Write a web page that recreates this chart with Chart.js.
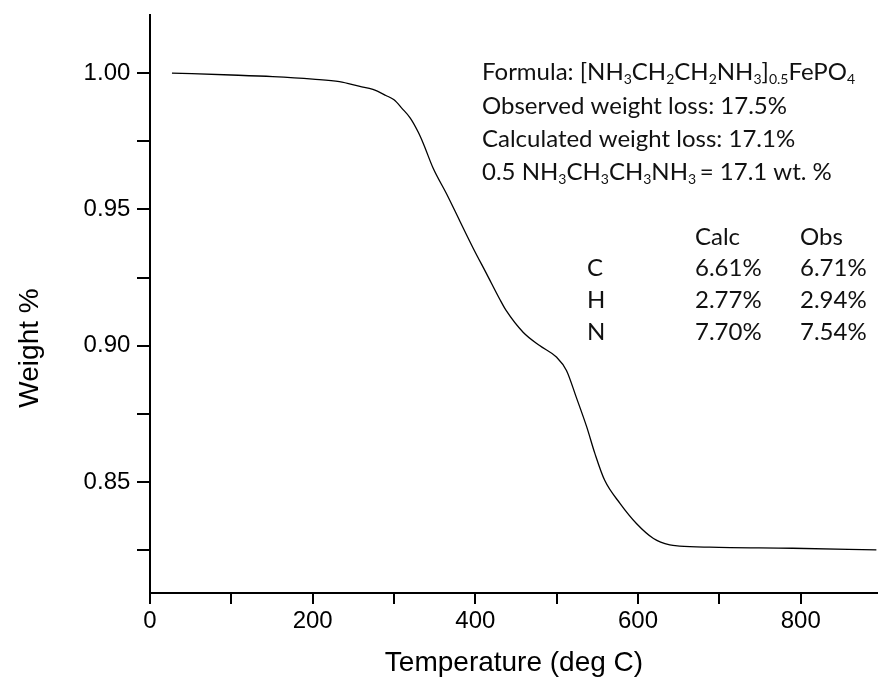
<!DOCTYPE html>
<html>
<head>
<meta charset="utf-8">
<script src="https://cdn.jsdelivr.net/npm/chart.js@4/dist/chart.umd.min.js"></script>
<style>
html,body{margin:0;padding:0;background:#fff;overflow:hidden;}
#wrap{width:878px;height:686px;}
</style>
</head>
<body>
<div id="wrap"><canvas id="c" width="878" height="686"></canvas></div>
<script>
// ---- data ----
const temperatureC = [27, 100, 151, 200, 233, 258, 274, 290, 300, 310, 320, 330, 336, 348, 365, 381, 397, 414, 430, 438, 459, 479, 500, 512, 524, 537, 547, 559, 578, 598, 619, 639, 651, 688, 790, 893];
const weightFrac   = [1.0000, 0.9993, 0.9987, 0.9978, 0.9969, 0.9951, 0.9940, 0.9918, 0.9902, 0.9870, 0.9835, 0.9782, 0.9742, 0.9652, 0.9555, 0.9457, 0.9360, 0.9263, 0.9171, 0.9129, 0.9049, 0.9001, 0.8958, 0.8910, 0.8812, 0.8702, 0.8605, 0.8507, 0.8422, 0.8349, 0.8294, 0.8270, 0.8266, 0.8262, 0.8258, 0.8252];
const xTickValues = [0, 100, 200, 300, 400, 500, 600, 700, 800];
const xTickLabels = [0, 200, 400, 600, 800];
const yTickValues = [0.825, 0.85, 0.875, 0.90, 0.925, 0.95, 0.975, 1.00];
const yTickLabels = ['0.85', '0.90', '0.95', '1.00'];
const xTitle = 'Temperature (deg C)';
const yTitle = 'Weight %';
const formulaLines = [
  [['Formula: [NH'],['3',1],['CH'],['2',1],['CH'],['2',1],['NH'],['3',1],[']'],['0.5',1],['FePO'],['4',1]],
  [['Observed weight loss: 17.5%']],
  [['Calculated weight loss: 17.1%']],
  [['0.5 NH'],['3',1],['CH'],['3',1],['CH'],['3',1],['NH'],['3 ',1],['= 17.1 wt. %']]
];
const tableHeader = ['Calc', 'Obs'];
const tableElements = ['C', 'H', 'N'];
const tableCalc = ['6.61%', '2.77%', '7.70%'];
const tableObs  = ['6.71%', '2.94%', '7.54%'];

const AX_FONT = "'Liberation Sans', Arial, sans-serif";
const TXT_FONT = "Lato, 'Open Sans', sans-serif";

const annotations = {
  id: 'annotations',
  afterDraw(chart) {
    const ctx = chart.ctx;
    ctx.save();
    // y-axis title
    ctx.fillStyle = '#000';
    ctx.font = '28px ' + AX_FONT;
    ctx.textAlign = 'center';
    ctx.textBaseline = 'middle';
    ctx.translate(30, 348);
    ctx.rotate(-Math.PI / 2);
    ctx.fillText(yTitle, 0, 0);
    ctx.restore();

    ctx.save();
    ctx.fillStyle = '#111';
    ctx.textBaseline = 'middle';
    ctx.textAlign = 'left';
    const S = 24, SUB = 14;
    const lineY = [72, 106, 139, 172];
    formulaLines.forEach((segs, i) => {
      let x = 482;
      segs.forEach(([t, sub]) => {
        ctx.font = (sub ? SUB : S) + 'px ' + TXT_FONT;
        ctx.fillText(t, x, lineY[i] + (sub ? 7 : 0));
        x += ctx.measureText(t).width;
      });
    });
    ctx.font = S + 'px ' + TXT_FONT;
    ctx.fillText(tableHeader[0], 695, 237);
    ctx.fillText(tableHeader[1], 800, 237);
    const rowY = [268, 300, 332];
    tableElements.forEach((e, i) => {
      ctx.fillText(e, 587, rowY[i]);
      ctx.fillText(tableCalc[i], 695, rowY[i]);
      ctx.fillText(tableObs[i], 800, rowY[i]);
    });
    ctx.restore();
  }
};

new Chart(document.getElementById('c'), {
  type: 'line',
  data: {
    datasets: [{
      data: temperatureC.map((t, i) => ({x: t, y: weightFrac[i]})),
      borderColor: '#000',
      borderWidth: 1.3,
      pointRadius: 0,
      pointHoverRadius: 0,
      cubicInterpolationMode: 'monotone',
      fill: false
    }]
  },
  options: {
    responsive: false,
    animation: false,
    layout: {autoPadding: false, padding: {top: 15, right: 0, left: 0, bottom: 0}},
    plugins: {legend: {display: false}, tooltip: {enabled: false}},
    scales: {
      x: {
        type: 'linear',
        min: 0, max: 895,
        afterFit: s => { s.height = 93; },
        afterBuildTicks: s => { s.ticks = xTickValues.map(v => ({value: v})); },
        ticks: {
          color: '#000',
          font: {family: AX_FONT, size: 24},
          padding: 3,
          maxRotation: 0,
          autoSkip: false,
          callback: v => xTickLabels.some(l => Math.abs(l - v) < 1e-6) ? String(Math.round(v)) : ''
        },
        grid: {drawOnChartArea: false, drawTicks: true, tickLength: 11, lineWidth: 2, color: '#000'},
        border: {display: true, color: '#000', width: 2},
        title: {display: true, text: xTitle, color: '#000', font: {family: AX_FONT, size: 28}, padding: {top: 0, bottom: 6}}
      },
      y: {
        type: 'linear',
        min: 0.8094, max: 1.0213,
        afterFit: s => { s.width = 150; },
        afterBuildTicks: s => { s.ticks = yTickValues.map(v => ({value: v})); },
        ticks: {
          color: '#000',
          font: {family: AX_FONT, size: 24},
          padding: 0,
          autoSkip: false,
          // trailing space gives the gap between label and tick mark
          callback: v => { const l = v.toFixed(2); return yTickLabels.includes(l) && Math.abs(v * 20 - Math.round(v * 20)) < 1e-6 ? l + ' ' : ''; }
        },
        grid: {drawOnChartArea: false, drawTicks: true, tickLength: 13, lineWidth: 2, color: '#000'},
        border: {display: true, color: '#000', width: 2},
        title: {display: false}
      }
    }
  },
  plugins: [annotations]
});
</script>
</body>
</html>
